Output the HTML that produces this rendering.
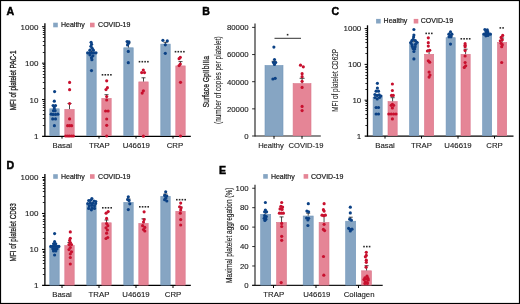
<!DOCTYPE html>
<html><head><meta charset="utf-8"><style>
html,body{margin:0;padding:0;background:#fff;width:520px;height:304px;overflow:hidden}
</style></head><body>
<svg width="520" height="304" viewBox="0 0 520 304" style="position:absolute;left:0;top:0;will-change:transform">
<rect x="0" y="0" width="520" height="304" fill="#fff"/>
<g style="font-family:&quot;Liberation Sans&quot;, sans-serif">
<text x="6.50" y="14.90" font-size="10.6" text-anchor="start" font-weight="bold" fill="#000" stroke="#000" stroke-width="0.45">A</text>
<text x="202.30" y="14.90" font-size="10.6" text-anchor="start" font-weight="bold" fill="#000" stroke="#000" stroke-width="0.45">B</text>
<text x="331.40" y="14.90" font-size="10.6" text-anchor="start" font-weight="bold" fill="#000" stroke="#000" stroke-width="0.45">C</text>
<text x="6.50" y="168.50" font-size="10.6" text-anchor="start" font-weight="bold" fill="#000" stroke="#000" stroke-width="0.45">D</text>
<text x="219.10" y="173.90" font-size="10.6" text-anchor="start" font-weight="bold" fill="#000" stroke="#000" stroke-width="0.45">E</text>
<line x1="44.90" y1="23.30" x2="44.90" y2="136.50" stroke="#000" stroke-width="1.3"/>
<line x1="42.10" y1="136.40" x2="190.80" y2="136.40" stroke="#000" stroke-width="1.15"/>
<text x="38.40" y="139.00" font-size="8.0" text-anchor="end" font-weight="normal" fill="#1a1a1a" stroke="#1a1a1a" stroke-width="0.12">1</text>
<line x1="42.80" y1="125.50" x2="44.90" y2="125.50" stroke="#111" stroke-width="0.9"/>
<line x1="42.80" y1="118.50" x2="44.90" y2="118.50" stroke="#111" stroke-width="0.9"/>
<line x1="42.80" y1="114.50" x2="44.90" y2="114.50" stroke="#111" stroke-width="0.9"/>
<line x1="42.80" y1="110.50" x2="44.90" y2="110.50" stroke="#111" stroke-width="0.9"/>
<line x1="42.80" y1="107.50" x2="44.90" y2="107.50" stroke="#111" stroke-width="0.9"/>
<line x1="42.80" y1="105.50" x2="44.90" y2="105.50" stroke="#111" stroke-width="0.9"/>
<line x1="42.80" y1="103.50" x2="44.90" y2="103.50" stroke="#111" stroke-width="0.9"/>
<line x1="42.80" y1="101.50" x2="44.90" y2="101.50" stroke="#111" stroke-width="0.9"/>
<line x1="42.00" y1="99.58" x2="44.90" y2="99.58" stroke="#000" stroke-width="1.0"/>
<text x="38.40" y="102.58" font-size="8.0" text-anchor="end" font-weight="normal" fill="#1a1a1a" stroke="#1a1a1a" stroke-width="0.12">10</text>
<line x1="42.80" y1="88.50" x2="44.90" y2="88.50" stroke="#111" stroke-width="0.9"/>
<line x1="42.80" y1="82.50" x2="44.90" y2="82.50" stroke="#111" stroke-width="0.9"/>
<line x1="42.80" y1="77.50" x2="44.90" y2="77.50" stroke="#111" stroke-width="0.9"/>
<line x1="42.80" y1="74.50" x2="44.90" y2="74.50" stroke="#111" stroke-width="0.9"/>
<line x1="42.80" y1="71.50" x2="44.90" y2="71.50" stroke="#111" stroke-width="0.9"/>
<line x1="42.80" y1="68.50" x2="44.90" y2="68.50" stroke="#111" stroke-width="0.9"/>
<line x1="42.80" y1="66.50" x2="44.90" y2="66.50" stroke="#111" stroke-width="0.9"/>
<line x1="42.80" y1="64.50" x2="44.90" y2="64.50" stroke="#111" stroke-width="0.9"/>
<line x1="42.00" y1="63.16" x2="44.90" y2="63.16" stroke="#000" stroke-width="1.0"/>
<text x="38.40" y="66.16" font-size="8.0" text-anchor="end" font-weight="normal" fill="#1a1a1a" stroke="#1a1a1a" stroke-width="0.12">100</text>
<line x1="42.80" y1="52.50" x2="44.90" y2="52.50" stroke="#111" stroke-width="0.9"/>
<line x1="42.80" y1="45.50" x2="44.90" y2="45.50" stroke="#111" stroke-width="0.9"/>
<line x1="42.80" y1="41.50" x2="44.90" y2="41.50" stroke="#111" stroke-width="0.9"/>
<line x1="42.80" y1="37.50" x2="44.90" y2="37.50" stroke="#111" stroke-width="0.9"/>
<line x1="42.80" y1="34.50" x2="44.90" y2="34.50" stroke="#111" stroke-width="0.9"/>
<line x1="42.80" y1="32.50" x2="44.90" y2="32.50" stroke="#111" stroke-width="0.9"/>
<line x1="42.80" y1="30.50" x2="44.90" y2="30.50" stroke="#111" stroke-width="0.9"/>
<line x1="42.80" y1="28.50" x2="44.90" y2="28.50" stroke="#111" stroke-width="0.9"/>
<line x1="42.00" y1="26.74" x2="44.90" y2="26.74" stroke="#000" stroke-width="1.0"/>
<text x="38.40" y="29.74" font-size="8.0" text-anchor="end" font-weight="normal" fill="#1a1a1a" stroke="#1a1a1a" stroke-width="0.12">1000</text>
<rect x="49.80" y="108.80" width="9.40" height="26.90" fill="#86a5c3" stroke="#7195ba" stroke-width="0.6"/>
<rect x="64.80" y="109.40" width="9.40" height="26.30" fill="#e58596" stroke="#d9768b" stroke-width="0.6"/>
<line x1="54.50" y1="105.90" x2="54.50" y2="108.50" stroke="#1a1a1a" stroke-width="0.8"/>
<line x1="52.50" y1="105.90" x2="56.50" y2="105.90" stroke="#1a1a1a" stroke-width="0.8"/>
<line x1="69.50" y1="103.50" x2="69.50" y2="109.10" stroke="#1a1a1a" stroke-width="0.8"/>
<line x1="67.50" y1="103.50" x2="71.50" y2="103.50" stroke="#1a1a1a" stroke-width="0.8"/>
<circle cx="54.60" cy="91.60" r="1.58" fill="#0b4185"/>
<circle cx="54.30" cy="101.20" r="1.58" fill="#0b4185"/>
<circle cx="53.10" cy="105.50" r="1.58" fill="#0b4185"/>
<circle cx="55.50" cy="105.50" r="1.58" fill="#0b4185"/>
<circle cx="54.30" cy="107.90" r="1.58" fill="#0b4185"/>
<circle cx="53.50" cy="110.70" r="1.58" fill="#0b4185"/>
<circle cx="55.10" cy="110.70" r="1.58" fill="#0b4185"/>
<circle cx="51.20" cy="114.20" r="1.58" fill="#0b4185"/>
<circle cx="53.10" cy="114.40" r="1.58" fill="#0b4185"/>
<circle cx="55.50" cy="114.40" r="1.58" fill="#0b4185"/>
<circle cx="57.90" cy="114.20" r="1.58" fill="#0b4185"/>
<circle cx="52.70" cy="118.90" r="1.58" fill="#0b4185"/>
<circle cx="55.50" cy="118.90" r="1.58" fill="#0b4185"/>
<circle cx="54.40" cy="125.70" r="1.58" fill="#0b4185"/>
<circle cx="69.60" cy="82.40" r="1.58" fill="#c8102e"/>
<circle cx="69.60" cy="89.70" r="1.58" fill="#c8102e"/>
<circle cx="69.60" cy="103.50" r="1.58" fill="#c8102e"/>
<circle cx="69.60" cy="118.90" r="1.58" fill="#c8102e"/>
<circle cx="67.60" cy="125.70" r="1.58" fill="#c8102e"/>
<circle cx="69.60" cy="125.70" r="1.58" fill="#c8102e"/>
<circle cx="71.60" cy="125.70" r="1.58" fill="#c8102e"/>
<circle cx="65.80" cy="136.00" r="1.58" fill="#c8102e"/>
<circle cx="67.80" cy="136.00" r="1.58" fill="#c8102e"/>
<circle cx="69.60" cy="136.00" r="1.58" fill="#c8102e"/>
<circle cx="71.60" cy="136.00" r="1.58" fill="#c8102e"/>
<circle cx="73.40" cy="136.00" r="1.58" fill="#c8102e"/>
<line x1="62.00" y1="136.00" x2="62.00" y2="138.60" stroke="#000" stroke-width="1.0"/>
<text x="62.30" y="147.80" font-size="7.8" text-anchor="middle" font-weight="normal" fill="#1a1a1a" stroke="#1a1a1a" stroke-width="0.12">Basal</text>
<rect x="86.80" y="53.10" width="9.40" height="82.60" fill="#86a5c3" stroke="#7195ba" stroke-width="0.6"/>
<rect x="101.80" y="98.40" width="9.40" height="37.30" fill="#e58596" stroke="#d9768b" stroke-width="0.6"/>
<line x1="91.50" y1="51.00" x2="91.50" y2="52.80" stroke="#1a1a1a" stroke-width="0.8"/>
<line x1="89.50" y1="51.00" x2="93.50" y2="51.00" stroke="#1a1a1a" stroke-width="0.8"/>
<line x1="106.50" y1="94.70" x2="106.50" y2="98.10" stroke="#1a1a1a" stroke-width="0.8"/>
<line x1="104.50" y1="94.70" x2="108.50" y2="94.70" stroke="#1a1a1a" stroke-width="0.8"/>
<circle cx="91.10" cy="42.30" r="1.58" fill="#0b4185"/>
<circle cx="91.60" cy="44.30" r="1.58" fill="#0b4185"/>
<circle cx="90.90" cy="46.30" r="1.58" fill="#0b4185"/>
<circle cx="92.20" cy="48.30" r="1.58" fill="#0b4185"/>
<circle cx="89.90" cy="50.20" r="1.58" fill="#0b4185"/>
<circle cx="93.40" cy="50.20" r="1.58" fill="#0b4185"/>
<circle cx="87.60" cy="52.80" r="1.58" fill="#0b4185"/>
<circle cx="89.70" cy="52.80" r="1.58" fill="#0b4185"/>
<circle cx="91.80" cy="52.80" r="1.58" fill="#0b4185"/>
<circle cx="94.00" cy="52.80" r="1.58" fill="#0b4185"/>
<circle cx="96.00" cy="52.80" r="1.58" fill="#0b4185"/>
<circle cx="89.90" cy="54.80" r="1.58" fill="#0b4185"/>
<circle cx="92.90" cy="55.80" r="1.58" fill="#0b4185"/>
<circle cx="91.50" cy="57.70" r="1.58" fill="#0b4185"/>
<circle cx="91.90" cy="59.70" r="1.58" fill="#0b4185"/>
<circle cx="91.50" cy="70.60" r="1.58" fill="#0b4185"/>
<circle cx="106.70" cy="80.80" r="1.58" fill="#c8102e"/>
<circle cx="107.40" cy="87.70" r="1.58" fill="#c8102e"/>
<circle cx="106.00" cy="89.60" r="1.58" fill="#c8102e"/>
<circle cx="106.70" cy="96.50" r="1.58" fill="#c8102e"/>
<circle cx="106.70" cy="100.00" r="1.58" fill="#c8102e"/>
<circle cx="105.60" cy="111.00" r="1.58" fill="#c8102e"/>
<circle cx="108.10" cy="111.00" r="1.58" fill="#c8102e"/>
<circle cx="106.70" cy="119.00" r="1.58" fill="#c8102e"/>
<circle cx="106.70" cy="125.30" r="1.58" fill="#c8102e"/>
<circle cx="106.70" cy="136.00" r="1.58" fill="#c8102e"/>
<line x1="99.00" y1="136.00" x2="99.00" y2="138.60" stroke="#000" stroke-width="1.0"/>
<text x="99.30" y="147.80" font-size="7.8" text-anchor="middle" font-weight="normal" fill="#1a1a1a" stroke="#1a1a1a" stroke-width="0.12">TRAP</text>
<rect x="123.80" y="47.80" width="9.40" height="87.90" fill="#86a5c3" stroke="#7195ba" stroke-width="0.6"/>
<rect x="138.80" y="81.90" width="9.40" height="53.80" fill="#e58596" stroke="#d9768b" stroke-width="0.6"/>
<line x1="128.50" y1="43.00" x2="128.50" y2="47.50" stroke="#1a1a1a" stroke-width="0.8"/>
<line x1="126.50" y1="43.00" x2="130.50" y2="43.00" stroke="#1a1a1a" stroke-width="0.8"/>
<line x1="143.50" y1="77.80" x2="143.50" y2="81.60" stroke="#1a1a1a" stroke-width="0.8"/>
<line x1="141.50" y1="77.80" x2="145.50" y2="77.80" stroke="#1a1a1a" stroke-width="0.8"/>
<circle cx="127.10" cy="41.50" r="1.58" fill="#0b4185"/>
<circle cx="129.00" cy="41.90" r="1.58" fill="#0b4185"/>
<circle cx="128.30" cy="43.60" r="1.58" fill="#0b4185"/>
<circle cx="127.50" cy="45.00" r="1.58" fill="#0b4185"/>
<circle cx="128.30" cy="51.40" r="1.58" fill="#0b4185"/>
<circle cx="128.30" cy="62.70" r="1.58" fill="#0b4185"/>
<circle cx="143.30" cy="70.00" r="1.58" fill="#c8102e"/>
<circle cx="141.70" cy="72.60" r="1.58" fill="#c8102e"/>
<circle cx="144.50" cy="72.60" r="1.58" fill="#c8102e"/>
<circle cx="143.40" cy="90.80" r="1.58" fill="#c8102e"/>
<circle cx="142.20" cy="93.10" r="1.58" fill="#c8102e"/>
<circle cx="143.40" cy="136.20" r="1.58" fill="#c8102e"/>
<line x1="136.00" y1="136.00" x2="136.00" y2="138.60" stroke="#000" stroke-width="1.0"/>
<text x="136.30" y="147.80" font-size="7.8" text-anchor="middle" font-weight="normal" fill="#1a1a1a" stroke="#1a1a1a" stroke-width="0.12">U46619</text>
<rect x="160.80" y="44.10" width="9.40" height="91.60" fill="#86a5c3" stroke="#7195ba" stroke-width="0.6"/>
<rect x="175.80" y="65.90" width="9.40" height="69.80" fill="#e58596" stroke="#d9768b" stroke-width="0.6"/>
<line x1="165.50" y1="42.30" x2="165.50" y2="43.80" stroke="#1a1a1a" stroke-width="0.8"/>
<line x1="163.50" y1="42.30" x2="167.50" y2="42.30" stroke="#1a1a1a" stroke-width="0.8"/>
<line x1="180.50" y1="61.60" x2="180.50" y2="65.60" stroke="#1a1a1a" stroke-width="0.8"/>
<line x1="178.50" y1="61.60" x2="182.50" y2="61.60" stroke="#1a1a1a" stroke-width="0.8"/>
<circle cx="162.90" cy="40.30" r="1.58" fill="#0b4185"/>
<circle cx="167.30" cy="40.90" r="1.58" fill="#0b4185"/>
<circle cx="165.30" cy="44.80" r="1.58" fill="#0b4185"/>
<circle cx="165.30" cy="53.30" r="1.58" fill="#0b4185"/>
<circle cx="180.30" cy="57.30" r="1.58" fill="#c8102e"/>
<circle cx="179.10" cy="58.70" r="1.58" fill="#c8102e"/>
<circle cx="180.30" cy="64.00" r="1.58" fill="#c8102e"/>
<circle cx="179.10" cy="65.60" r="1.58" fill="#c8102e"/>
<circle cx="180.50" cy="82.30" r="1.58" fill="#c8102e"/>
<circle cx="180.50" cy="136.00" r="1.58" fill="#c8102e"/>
<line x1="173.00" y1="136.00" x2="173.00" y2="138.60" stroke="#000" stroke-width="1.0"/>
<text x="174.90" y="147.80" font-size="7.8" text-anchor="middle" font-weight="normal" fill="#1a1a1a" stroke="#1a1a1a" stroke-width="0.12">CRP</text>
<rect x="53.20" y="22.70" width="4.60" height="4.60" fill="#86a5c3"/>
<text x="61.00" y="27.10" font-size="7.0" text-anchor="start" font-weight="normal" fill="#1a1a1a" stroke="#1a1a1a" stroke-width="0.2">Healthy</text>
<rect x="90.00" y="22.70" width="4.60" height="4.60" fill="#e58596"/>
<text x="98.10" y="27.10" font-size="7.0" text-anchor="start" font-weight="normal" fill="#1a1a1a" stroke="#1a1a1a" stroke-width="0.2">COVID-19</text>
<text x="0" y="0" font-size="8.8" font-weight="normal" text-anchor="middle" fill="#1a1a1a" stroke="#1a1a1a" stroke-width="0.32" textLength="59.8" lengthAdjust="spacingAndGlyphs" transform="translate(15.60,80.30) rotate(-90)">MFI of platelet PAC-1</text>
<rect x="101.70" y="74.00" width="1.6" height="1.6" fill="#2a2a2a"/>
<rect x="104.50" y="74.00" width="1.6" height="1.6" fill="#2a2a2a"/>
<rect x="107.30" y="74.00" width="1.6" height="1.6" fill="#2a2a2a"/>
<rect x="110.10" y="74.00" width="1.6" height="1.6" fill="#2a2a2a"/>
<rect x="138.70" y="60.90" width="1.6" height="1.6" fill="#2a2a2a"/>
<rect x="141.50" y="60.90" width="1.6" height="1.6" fill="#2a2a2a"/>
<rect x="144.30" y="60.90" width="1.6" height="1.6" fill="#2a2a2a"/>
<rect x="147.10" y="60.90" width="1.6" height="1.6" fill="#2a2a2a"/>
<rect x="174.70" y="50.90" width="1.6" height="1.6" fill="#2a2a2a"/>
<rect x="177.50" y="50.90" width="1.6" height="1.6" fill="#2a2a2a"/>
<rect x="180.30" y="50.90" width="1.6" height="1.6" fill="#2a2a2a"/>
<rect x="183.10" y="50.90" width="1.6" height="1.6" fill="#2a2a2a"/>
<line x1="255.00" y1="23.60" x2="255.00" y2="136.50" stroke="#1a1a1a" stroke-width="1.1"/>
<line x1="255.00" y1="136.00" x2="320.80" y2="136.00" stroke="#1a1a1a" stroke-width="1.1"/>
<line x1="252.10" y1="136.00" x2="255.00" y2="136.00" stroke="#1a1a1a" stroke-width="0.9"/>
<text x="248.60" y="138.80" font-size="7.8" text-anchor="end" font-weight="normal" fill="#1a1a1a" stroke="#1a1a1a" stroke-width="0.12">0</text>
<line x1="252.10" y1="108.85" x2="255.00" y2="108.85" stroke="#1a1a1a" stroke-width="0.9"/>
<text x="248.60" y="111.65" font-size="7.8" text-anchor="end" font-weight="normal" fill="#1a1a1a" stroke="#1a1a1a" stroke-width="0.12">20000</text>
<line x1="252.10" y1="81.70" x2="255.00" y2="81.70" stroke="#1a1a1a" stroke-width="0.9"/>
<text x="248.60" y="84.50" font-size="7.8" text-anchor="end" font-weight="normal" fill="#1a1a1a" stroke="#1a1a1a" stroke-width="0.12">40000</text>
<line x1="252.10" y1="54.55" x2="255.00" y2="54.55" stroke="#1a1a1a" stroke-width="0.9"/>
<text x="248.60" y="57.35" font-size="7.8" text-anchor="end" font-weight="normal" fill="#1a1a1a" stroke="#1a1a1a" stroke-width="0.12">60000</text>
<line x1="252.10" y1="27.40" x2="255.00" y2="27.40" stroke="#1a1a1a" stroke-width="0.9"/>
<text x="248.60" y="30.20" font-size="7.8" text-anchor="end" font-weight="normal" fill="#1a1a1a" stroke="#1a1a1a" stroke-width="0.12">80000</text>
<rect x="265.00" y="65.50" width="18.00" height="70.20" fill="#86a5c3" stroke="#7195ba" stroke-width="0.6"/>
<rect x="293.10" y="83.60" width="17.90" height="52.10" fill="#e58596" stroke="#d9768b" stroke-width="0.6"/>
<line x1="274.10" y1="61.30" x2="274.10" y2="65.20" stroke="#1a1a1a" stroke-width="0.8"/>
<line x1="271.60" y1="61.30" x2="276.60" y2="61.30" stroke="#1a1a1a" stroke-width="0.8"/>
<line x1="302.10" y1="78.30" x2="302.10" y2="83.30" stroke="#1a1a1a" stroke-width="0.8"/>
<line x1="299.60" y1="78.30" x2="304.60" y2="78.30" stroke="#1a1a1a" stroke-width="0.8"/>
<circle cx="273.90" cy="47.10" r="1.58" fill="#0b4185"/>
<circle cx="274.50" cy="59.50" r="1.58" fill="#0b4185"/>
<circle cx="273.40" cy="62.50" r="1.58" fill="#0b4185"/>
<circle cx="275.70" cy="62.50" r="1.58" fill="#0b4185"/>
<circle cx="274.50" cy="64.50" r="1.58" fill="#0b4185"/>
<circle cx="272.90" cy="79.00" r="1.58" fill="#0b4185"/>
<circle cx="275.20" cy="78.30" r="1.58" fill="#0b4185"/>
<circle cx="300.50" cy="65.20" r="1.58" fill="#c8102e"/>
<circle cx="303.30" cy="66.80" r="1.58" fill="#c8102e"/>
<circle cx="302.10" cy="73.70" r="1.58" fill="#c8102e"/>
<circle cx="302.10" cy="76.70" r="1.58" fill="#c8102e"/>
<circle cx="302.10" cy="81.30" r="1.58" fill="#c8102e"/>
<circle cx="302.10" cy="87.40" r="1.58" fill="#c8102e"/>
<circle cx="302.10" cy="106.40" r="1.58" fill="#c8102e"/>
<circle cx="302.10" cy="110.60" r="1.58" fill="#c8102e"/>
<line x1="274.00" y1="136.00" x2="274.00" y2="138.80" stroke="#000" stroke-width="1.0"/>
<line x1="302.00" y1="136.00" x2="302.00" y2="138.80" stroke="#000" stroke-width="1.0"/>
<text x="271.00" y="147.80" font-size="7.6" text-anchor="middle" font-weight="normal" fill="#1a1a1a" stroke="#1a1a1a" stroke-width="0.12">Healthy</text>
<text x="306.00" y="147.80" font-size="7.6" text-anchor="middle" font-weight="normal" fill="#1a1a1a" stroke="#1a1a1a" stroke-width="0.12">COVID-19</text>
<line x1="274.50" y1="38.30" x2="301.00" y2="38.30" stroke="#1a1a1a" stroke-width="0.9"/>
<rect x="286.80" y="33.90" width="1.6" height="1.6" fill="#2a2a2a"/>
<text x="0" y="0" font-size="8.8" font-weight="normal" text-anchor="middle" fill="#1a1a1a" stroke="#1a1a1a" stroke-width="0.25" textLength="51.6" lengthAdjust="spacingAndGlyphs" transform="translate(209.00,81.80) rotate(-90)">Surface GpIIbIIIa</text>
<text x="0" y="0" font-size="8.5" font-weight="normal" text-anchor="middle" fill="#1a1a1a" stroke="#1a1a1a" stroke-width="0.1" textLength="87.6" lengthAdjust="spacingAndGlyphs" transform="translate(221.00,80.20) rotate(-90)">(number of copies per platelet)</text>
<line x1="367.50" y1="25.30" x2="367.50" y2="136.50" stroke="#000" stroke-width="1.3"/>
<line x1="364.70" y1="136.10" x2="513.50" y2="136.10" stroke="#000" stroke-width="1.15"/>
<text x="361.30" y="138.50" font-size="8.0" text-anchor="end" font-weight="normal" fill="#1a1a1a" stroke="#1a1a1a" stroke-width="0.12">1</text>
<line x1="365.40" y1="125.50" x2="367.50" y2="125.50" stroke="#111" stroke-width="0.9"/>
<line x1="365.40" y1="118.50" x2="367.50" y2="118.50" stroke="#111" stroke-width="0.9"/>
<line x1="365.40" y1="114.50" x2="367.50" y2="114.50" stroke="#111" stroke-width="0.9"/>
<line x1="365.40" y1="110.50" x2="367.50" y2="110.50" stroke="#111" stroke-width="0.9"/>
<line x1="365.40" y1="108.50" x2="367.50" y2="108.50" stroke="#111" stroke-width="0.9"/>
<line x1="365.40" y1="105.50" x2="367.50" y2="105.50" stroke="#111" stroke-width="0.9"/>
<line x1="365.40" y1="103.50" x2="367.50" y2="103.50" stroke="#111" stroke-width="0.9"/>
<line x1="365.40" y1="101.50" x2="367.50" y2="101.50" stroke="#111" stroke-width="0.9"/>
<line x1="364.60" y1="100.20" x2="367.50" y2="100.20" stroke="#000" stroke-width="1.0"/>
<text x="361.30" y="102.70" font-size="8.0" text-anchor="end" font-weight="normal" fill="#1a1a1a" stroke="#1a1a1a" stroke-width="0.12">10</text>
<line x1="365.40" y1="89.50" x2="367.50" y2="89.50" stroke="#111" stroke-width="0.9"/>
<line x1="365.40" y1="83.50" x2="367.50" y2="83.50" stroke="#111" stroke-width="0.9"/>
<line x1="365.40" y1="78.50" x2="367.50" y2="78.50" stroke="#111" stroke-width="0.9"/>
<line x1="365.40" y1="75.50" x2="367.50" y2="75.50" stroke="#111" stroke-width="0.9"/>
<line x1="365.40" y1="72.50" x2="367.50" y2="72.50" stroke="#111" stroke-width="0.9"/>
<line x1="365.40" y1="69.50" x2="367.50" y2="69.50" stroke="#111" stroke-width="0.9"/>
<line x1="365.40" y1="67.50" x2="367.50" y2="67.50" stroke="#111" stroke-width="0.9"/>
<line x1="365.40" y1="66.50" x2="367.50" y2="66.50" stroke="#111" stroke-width="0.9"/>
<line x1="364.60" y1="64.40" x2="367.50" y2="64.40" stroke="#000" stroke-width="1.0"/>
<text x="361.30" y="66.90" font-size="8.0" text-anchor="end" font-weight="normal" fill="#1a1a1a" stroke="#1a1a1a" stroke-width="0.12">100</text>
<line x1="365.40" y1="53.50" x2="367.50" y2="53.50" stroke="#111" stroke-width="0.9"/>
<line x1="365.40" y1="47.50" x2="367.50" y2="47.50" stroke="#111" stroke-width="0.9"/>
<line x1="365.40" y1="42.50" x2="367.50" y2="42.50" stroke="#111" stroke-width="0.9"/>
<line x1="365.40" y1="39.50" x2="367.50" y2="39.50" stroke="#111" stroke-width="0.9"/>
<line x1="365.40" y1="36.50" x2="367.50" y2="36.50" stroke="#111" stroke-width="0.9"/>
<line x1="365.40" y1="34.50" x2="367.50" y2="34.50" stroke="#111" stroke-width="0.9"/>
<line x1="365.40" y1="32.50" x2="367.50" y2="32.50" stroke="#111" stroke-width="0.9"/>
<line x1="365.40" y1="30.50" x2="367.50" y2="30.50" stroke="#111" stroke-width="0.9"/>
<line x1="364.60" y1="28.60" x2="367.50" y2="28.60" stroke="#000" stroke-width="1.0"/>
<text x="361.30" y="31.10" font-size="8.0" text-anchor="end" font-weight="normal" fill="#1a1a1a" stroke="#1a1a1a" stroke-width="0.12">1000</text>
<rect x="373.10" y="97.50" width="9.10" height="38.20" fill="#86a5c3" stroke="#7195ba" stroke-width="0.6"/>
<rect x="388.00" y="101.60" width="9.20" height="34.10" fill="#e58596" stroke="#d9768b" stroke-width="0.6"/>
<line x1="377.65" y1="95.00" x2="377.65" y2="97.20" stroke="#1a1a1a" stroke-width="0.8"/>
<line x1="375.65" y1="95.00" x2="379.65" y2="95.00" stroke="#1a1a1a" stroke-width="0.8"/>
<line x1="392.60" y1="97.70" x2="392.60" y2="101.30" stroke="#1a1a1a" stroke-width="0.8"/>
<line x1="390.60" y1="97.70" x2="394.60" y2="97.70" stroke="#1a1a1a" stroke-width="0.8"/>
<circle cx="377.40" cy="83.30" r="1.58" fill="#0b4185"/>
<circle cx="377.40" cy="88.10" r="1.58" fill="#0b4185"/>
<circle cx="376.10" cy="91.20" r="1.58" fill="#0b4185"/>
<circle cx="378.50" cy="91.20" r="1.58" fill="#0b4185"/>
<circle cx="374.90" cy="94.50" r="1.58" fill="#0b4185"/>
<circle cx="377.00" cy="95.40" r="1.58" fill="#0b4185"/>
<circle cx="379.20" cy="94.80" r="1.58" fill="#0b4185"/>
<circle cx="375.00" cy="97.50" r="1.58" fill="#0b4185"/>
<circle cx="377.20" cy="99.00" r="1.58" fill="#0b4185"/>
<circle cx="379.50" cy="97.50" r="1.58" fill="#0b4185"/>
<circle cx="381.00" cy="96.00" r="1.58" fill="#0b4185"/>
<circle cx="376.10" cy="107.50" r="1.58" fill="#0b4185"/>
<circle cx="378.50" cy="107.50" r="1.58" fill="#0b4185"/>
<circle cx="376.10" cy="114.00" r="1.58" fill="#0b4185"/>
<circle cx="378.50" cy="114.00" r="1.58" fill="#0b4185"/>
<circle cx="392.40" cy="84.00" r="1.58" fill="#c8102e"/>
<circle cx="392.40" cy="90.50" r="1.58" fill="#c8102e"/>
<circle cx="391.50" cy="95.40" r="1.58" fill="#c8102e"/>
<circle cx="393.30" cy="95.40" r="1.58" fill="#c8102e"/>
<circle cx="392.40" cy="104.40" r="1.58" fill="#c8102e"/>
<circle cx="391.20" cy="105.30" r="1.58" fill="#c8102e"/>
<circle cx="393.60" cy="105.30" r="1.58" fill="#c8102e"/>
<circle cx="392.40" cy="108.00" r="1.58" fill="#c8102e"/>
<circle cx="388.80" cy="114.00" r="1.58" fill="#c8102e"/>
<circle cx="391.20" cy="114.00" r="1.58" fill="#c8102e"/>
<circle cx="393.60" cy="114.00" r="1.58" fill="#c8102e"/>
<circle cx="396.00" cy="114.00" r="1.58" fill="#c8102e"/>
<circle cx="392.40" cy="118.90" r="1.58" fill="#c8102e"/>
<line x1="385.00" y1="136.00" x2="385.00" y2="138.60" stroke="#000" stroke-width="1.0"/>
<text x="385.00" y="147.80" font-size="7.8" text-anchor="middle" font-weight="normal" fill="#1a1a1a" stroke="#1a1a1a" stroke-width="0.12">Basal</text>
<rect x="409.60" y="42.40" width="9.10" height="93.30" fill="#86a5c3" stroke="#7195ba" stroke-width="0.6"/>
<rect x="424.50" y="54.30" width="9.20" height="81.40" fill="#e58596" stroke="#d9768b" stroke-width="0.6"/>
<line x1="414.15" y1="41.20" x2="414.15" y2="42.10" stroke="#1a1a1a" stroke-width="0.8"/>
<line x1="412.15" y1="41.20" x2="416.15" y2="41.20" stroke="#1a1a1a" stroke-width="0.8"/>
<line x1="429.10" y1="50.00" x2="429.10" y2="54.00" stroke="#1a1a1a" stroke-width="0.8"/>
<line x1="427.10" y1="50.00" x2="431.10" y2="50.00" stroke="#1a1a1a" stroke-width="0.8"/>
<circle cx="413.90" cy="29.50" r="1.58" fill="#0b4185"/>
<circle cx="413.90" cy="35.10" r="1.58" fill="#0b4185"/>
<circle cx="413.60" cy="37.00" r="1.58" fill="#0b4185"/>
<circle cx="413.20" cy="39.30" r="1.58" fill="#0b4185"/>
<circle cx="411.90" cy="40.60" r="1.58" fill="#0b4185"/>
<circle cx="415.40" cy="40.60" r="1.58" fill="#0b4185"/>
<circle cx="410.70" cy="42.60" r="1.58" fill="#0b4185"/>
<circle cx="417.00" cy="42.30" r="1.58" fill="#0b4185"/>
<circle cx="411.90" cy="44.60" r="1.58" fill="#0b4185"/>
<circle cx="415.50" cy="44.30" r="1.58" fill="#0b4185"/>
<circle cx="412.30" cy="46.40" r="1.58" fill="#0b4185"/>
<circle cx="415.10" cy="46.70" r="1.58" fill="#0b4185"/>
<circle cx="413.10" cy="48.60" r="1.58" fill="#0b4185"/>
<circle cx="414.70" cy="49.00" r="1.58" fill="#0b4185"/>
<circle cx="413.90" cy="51.50" r="1.58" fill="#0b4185"/>
<circle cx="413.90" cy="58.90" r="1.58" fill="#0b4185"/>
<circle cx="428.30" cy="37.80" r="1.58" fill="#c8102e"/>
<circle cx="428.30" cy="42.70" r="1.58" fill="#c8102e"/>
<circle cx="428.30" cy="46.10" r="1.58" fill="#c8102e"/>
<circle cx="427.40" cy="51.00" r="1.58" fill="#c8102e"/>
<circle cx="429.70" cy="50.30" r="1.58" fill="#c8102e"/>
<circle cx="428.30" cy="60.80" r="1.58" fill="#c8102e"/>
<circle cx="429.70" cy="62.20" r="1.58" fill="#c8102e"/>
<circle cx="429.10" cy="72.10" r="1.58" fill="#c8102e"/>
<circle cx="430.00" cy="75.10" r="1.58" fill="#c8102e"/>
<circle cx="429.10" cy="77.10" r="1.58" fill="#c8102e"/>
<line x1="421.50" y1="136.00" x2="421.50" y2="138.60" stroke="#000" stroke-width="1.0"/>
<text x="421.50" y="147.80" font-size="7.8" text-anchor="middle" font-weight="normal" fill="#1a1a1a" stroke="#1a1a1a" stroke-width="0.12">TRAP</text>
<rect x="446.10" y="37.70" width="9.10" height="98.00" fill="#86a5c3" stroke="#7195ba" stroke-width="0.6"/>
<rect x="461.00" y="54.30" width="9.20" height="81.40" fill="#e58596" stroke="#d9768b" stroke-width="0.6"/>
<line x1="450.65" y1="36.00" x2="450.65" y2="37.40" stroke="#1a1a1a" stroke-width="0.8"/>
<line x1="448.65" y1="36.00" x2="452.65" y2="36.00" stroke="#1a1a1a" stroke-width="0.8"/>
<line x1="465.60" y1="49.20" x2="465.60" y2="54.00" stroke="#1a1a1a" stroke-width="0.8"/>
<line x1="463.60" y1="49.20" x2="467.60" y2="49.20" stroke="#1a1a1a" stroke-width="0.8"/>
<circle cx="450.50" cy="31.90" r="1.58" fill="#0b4185"/>
<circle cx="448.90" cy="34.20" r="1.58" fill="#0b4185"/>
<circle cx="450.50" cy="35.40" r="1.58" fill="#0b4185"/>
<circle cx="451.90" cy="34.20" r="1.58" fill="#0b4185"/>
<circle cx="449.00" cy="36.80" r="1.58" fill="#0b4185"/>
<circle cx="451.00" cy="36.80" r="1.58" fill="#0b4185"/>
<circle cx="450.50" cy="44.10" r="1.58" fill="#0b4185"/>
<circle cx="465.10" cy="43.70" r="1.58" fill="#c8102e"/>
<circle cx="465.10" cy="45.30" r="1.58" fill="#c8102e"/>
<circle cx="465.10" cy="46.70" r="1.58" fill="#c8102e"/>
<circle cx="465.10" cy="50.60" r="1.58" fill="#c8102e"/>
<circle cx="465.10" cy="56.00" r="1.58" fill="#c8102e"/>
<circle cx="465.10" cy="62.50" r="1.58" fill="#c8102e"/>
<circle cx="465.70" cy="65.80" r="1.58" fill="#c8102e"/>
<circle cx="464.30" cy="67.40" r="1.58" fill="#c8102e"/>
<line x1="458.00" y1="136.00" x2="458.00" y2="138.60" stroke="#000" stroke-width="1.0"/>
<text x="458.00" y="147.80" font-size="7.8" text-anchor="middle" font-weight="normal" fill="#1a1a1a" stroke="#1a1a1a" stroke-width="0.12">U46619</text>
<rect x="482.60" y="33.70" width="9.10" height="102.00" fill="#86a5c3" stroke="#7195ba" stroke-width="0.6"/>
<rect x="497.50" y="42.40" width="9.20" height="93.30" fill="#e58596" stroke="#d9768b" stroke-width="0.6"/>
<line x1="487.15" y1="31.00" x2="487.15" y2="33.40" stroke="#1a1a1a" stroke-width="0.8"/>
<line x1="485.15" y1="31.00" x2="489.15" y2="31.00" stroke="#1a1a1a" stroke-width="0.8"/>
<line x1="502.10" y1="38.00" x2="502.10" y2="42.10" stroke="#1a1a1a" stroke-width="0.8"/>
<line x1="500.10" y1="38.00" x2="504.10" y2="38.00" stroke="#1a1a1a" stroke-width="0.8"/>
<circle cx="484.90" cy="29.50" r="1.58" fill="#0b4185"/>
<circle cx="487.30" cy="29.90" r="1.58" fill="#0b4185"/>
<circle cx="485.90" cy="31.80" r="1.58" fill="#0b4185"/>
<circle cx="487.80" cy="32.20" r="1.58" fill="#0b4185"/>
<circle cx="484.00" cy="34.20" r="1.58" fill="#0b4185"/>
<circle cx="486.00" cy="34.20" r="1.58" fill="#0b4185"/>
<circle cx="488.20" cy="34.20" r="1.58" fill="#0b4185"/>
<circle cx="490.30" cy="34.20" r="1.58" fill="#0b4185"/>
<circle cx="485.90" cy="35.80" r="1.58" fill="#0b4185"/>
<circle cx="487.90" cy="35.40" r="1.58" fill="#0b4185"/>
<circle cx="502.70" cy="35.40" r="1.58" fill="#c8102e"/>
<circle cx="501.10" cy="37.40" r="1.58" fill="#c8102e"/>
<circle cx="502.30" cy="39.80" r="1.58" fill="#c8102e"/>
<circle cx="500.30" cy="40.80" r="1.58" fill="#c8102e"/>
<circle cx="501.10" cy="43.30" r="1.58" fill="#c8102e"/>
<circle cx="502.30" cy="44.70" r="1.58" fill="#c8102e"/>
<circle cx="501.70" cy="46.70" r="1.58" fill="#c8102e"/>
<circle cx="501.70" cy="62.50" r="1.58" fill="#c8102e"/>
<line x1="494.50" y1="136.00" x2="494.50" y2="138.60" stroke="#000" stroke-width="1.0"/>
<text x="494.50" y="147.80" font-size="7.8" text-anchor="middle" font-weight="normal" fill="#1a1a1a" stroke="#1a1a1a" stroke-width="0.12">CRP</text>
<rect x="376.10" y="18.90" width="4.60" height="4.60" fill="#86a5c3"/>
<text x="383.60" y="23.30" font-size="7.0" text-anchor="start" font-weight="normal" fill="#1a1a1a" stroke="#1a1a1a" stroke-width="0.2">Healthy</text>
<rect x="413.70" y="18.90" width="4.60" height="4.60" fill="#e58596"/>
<text x="420.80" y="23.30" font-size="7.0" text-anchor="start" font-weight="normal" fill="#1a1a1a" stroke="#1a1a1a" stroke-width="0.2">COVID-19</text>
<text x="0" y="0" font-size="8.6" font-weight="normal" text-anchor="middle" fill="#1a1a1a" stroke="#1a1a1a" stroke-width="0.06" textLength="62.8" lengthAdjust="spacingAndGlyphs" transform="translate(338.20,80.40) rotate(-90)">MFI of platelet CD62P</text>
<rect x="425.40" y="32.60" width="1.6" height="1.6" fill="#2a2a2a"/>
<rect x="428.20" y="32.60" width="1.6" height="1.6" fill="#2a2a2a"/>
<rect x="431.00" y="32.60" width="1.6" height="1.6" fill="#2a2a2a"/>
<rect x="460.50" y="38.00" width="1.6" height="1.6" fill="#2a2a2a"/>
<rect x="463.30" y="38.00" width="1.6" height="1.6" fill="#2a2a2a"/>
<rect x="466.10" y="38.00" width="1.6" height="1.6" fill="#2a2a2a"/>
<rect x="468.90" y="38.00" width="1.6" height="1.6" fill="#2a2a2a"/>
<rect x="499.50" y="27.10" width="1.6" height="1.6" fill="#2a2a2a"/>
<rect x="502.30" y="27.10" width="1.6" height="1.6" fill="#2a2a2a"/>
<line x1="44.90" y1="174.00" x2="44.90" y2="285.90" stroke="#000" stroke-width="1.3"/>
<line x1="42.10" y1="285.40" x2="190.80" y2="285.40" stroke="#000" stroke-width="1.15"/>
<text x="38.40" y="288.20" font-size="8.0" text-anchor="end" font-weight="normal" fill="#1a1a1a" stroke="#1a1a1a" stroke-width="0.12">1</text>
<line x1="42.80" y1="274.50" x2="44.90" y2="274.50" stroke="#111" stroke-width="0.9"/>
<line x1="42.80" y1="268.50" x2="44.90" y2="268.50" stroke="#111" stroke-width="0.9"/>
<line x1="42.80" y1="263.50" x2="44.90" y2="263.50" stroke="#111" stroke-width="0.9"/>
<line x1="42.80" y1="260.50" x2="44.90" y2="260.50" stroke="#111" stroke-width="0.9"/>
<line x1="42.80" y1="257.50" x2="44.90" y2="257.50" stroke="#111" stroke-width="0.9"/>
<line x1="42.80" y1="255.50" x2="44.90" y2="255.50" stroke="#111" stroke-width="0.9"/>
<line x1="42.80" y1="252.50" x2="44.90" y2="252.50" stroke="#111" stroke-width="0.9"/>
<line x1="42.80" y1="251.50" x2="44.90" y2="251.50" stroke="#111" stroke-width="0.9"/>
<line x1="42.00" y1="249.43" x2="44.90" y2="249.43" stroke="#000" stroke-width="1.0"/>
<text x="38.40" y="252.23" font-size="8.0" text-anchor="end" font-weight="normal" fill="#1a1a1a" stroke="#1a1a1a" stroke-width="0.12">10</text>
<line x1="42.80" y1="238.50" x2="44.90" y2="238.50" stroke="#111" stroke-width="0.9"/>
<line x1="42.80" y1="232.50" x2="44.90" y2="232.50" stroke="#111" stroke-width="0.9"/>
<line x1="42.80" y1="227.50" x2="44.90" y2="227.50" stroke="#111" stroke-width="0.9"/>
<line x1="42.80" y1="224.50" x2="44.90" y2="224.50" stroke="#111" stroke-width="0.9"/>
<line x1="42.80" y1="221.50" x2="44.90" y2="221.50" stroke="#111" stroke-width="0.9"/>
<line x1="42.80" y1="219.50" x2="44.90" y2="219.50" stroke="#111" stroke-width="0.9"/>
<line x1="42.80" y1="216.50" x2="44.90" y2="216.50" stroke="#111" stroke-width="0.9"/>
<line x1="42.80" y1="215.50" x2="44.90" y2="215.50" stroke="#111" stroke-width="0.9"/>
<line x1="42.00" y1="213.46" x2="44.90" y2="213.46" stroke="#000" stroke-width="1.0"/>
<text x="38.40" y="216.26" font-size="8.0" text-anchor="end" font-weight="normal" fill="#1a1a1a" stroke="#1a1a1a" stroke-width="0.12">100</text>
<line x1="42.80" y1="202.50" x2="44.90" y2="202.50" stroke="#111" stroke-width="0.9"/>
<line x1="42.80" y1="196.50" x2="44.90" y2="196.50" stroke="#111" stroke-width="0.9"/>
<line x1="42.80" y1="191.50" x2="44.90" y2="191.50" stroke="#111" stroke-width="0.9"/>
<line x1="42.80" y1="188.50" x2="44.90" y2="188.50" stroke="#111" stroke-width="0.9"/>
<line x1="42.80" y1="185.50" x2="44.90" y2="185.50" stroke="#111" stroke-width="0.9"/>
<line x1="42.80" y1="183.50" x2="44.90" y2="183.50" stroke="#111" stroke-width="0.9"/>
<line x1="42.80" y1="180.50" x2="44.90" y2="180.50" stroke="#111" stroke-width="0.9"/>
<line x1="42.80" y1="179.50" x2="44.90" y2="179.50" stroke="#111" stroke-width="0.9"/>
<line x1="42.00" y1="177.49" x2="44.90" y2="177.49" stroke="#000" stroke-width="1.0"/>
<text x="38.40" y="180.29" font-size="8.0" text-anchor="end" font-weight="normal" fill="#1a1a1a" stroke="#1a1a1a" stroke-width="0.12">1000</text>
<rect x="49.80" y="246.10" width="9.40" height="39.00" fill="#86a5c3" stroke="#7195ba" stroke-width="0.6"/>
<rect x="64.80" y="245.60" width="9.40" height="39.50" fill="#e58596" stroke="#d9768b" stroke-width="0.6"/>
<line x1="54.50" y1="243.50" x2="54.50" y2="245.80" stroke="#1a1a1a" stroke-width="0.8"/>
<line x1="52.50" y1="243.50" x2="56.50" y2="243.50" stroke="#1a1a1a" stroke-width="0.8"/>
<line x1="69.50" y1="242.50" x2="69.50" y2="245.30" stroke="#1a1a1a" stroke-width="0.8"/>
<line x1="67.50" y1="242.50" x2="71.50" y2="242.50" stroke="#1a1a1a" stroke-width="0.8"/>
<circle cx="54.60" cy="233.60" r="1.58" fill="#0b4185"/>
<circle cx="54.60" cy="241.70" r="1.58" fill="#0b4185"/>
<circle cx="53.60" cy="243.80" r="1.58" fill="#0b4185"/>
<circle cx="55.70" cy="243.80" r="1.58" fill="#0b4185"/>
<circle cx="50.80" cy="246.40" r="1.58" fill="#0b4185"/>
<circle cx="52.90" cy="246.40" r="1.58" fill="#0b4185"/>
<circle cx="55.00" cy="246.40" r="1.58" fill="#0b4185"/>
<circle cx="57.10" cy="246.40" r="1.58" fill="#0b4185"/>
<circle cx="58.90" cy="246.40" r="1.58" fill="#0b4185"/>
<circle cx="52.80" cy="248.80" r="1.58" fill="#0b4185"/>
<circle cx="55.00" cy="249.00" r="1.58" fill="#0b4185"/>
<circle cx="57.00" cy="248.80" r="1.58" fill="#0b4185"/>
<circle cx="53.50" cy="251.00" r="1.58" fill="#0b4185"/>
<circle cx="55.80" cy="251.00" r="1.58" fill="#0b4185"/>
<circle cx="54.60" cy="255.00" r="1.58" fill="#0b4185"/>
<circle cx="70.30" cy="231.90" r="1.58" fill="#c8102e"/>
<circle cx="70.30" cy="238.30" r="1.58" fill="#c8102e"/>
<circle cx="69.60" cy="240.40" r="1.58" fill="#c8102e"/>
<circle cx="70.30" cy="242.50" r="1.58" fill="#c8102e"/>
<circle cx="69.00" cy="244.60" r="1.58" fill="#c8102e"/>
<circle cx="71.50" cy="244.60" r="1.58" fill="#c8102e"/>
<circle cx="70.30" cy="247.50" r="1.58" fill="#c8102e"/>
<circle cx="69.00" cy="249.60" r="1.58" fill="#c8102e"/>
<circle cx="71.50" cy="251.80" r="1.58" fill="#c8102e"/>
<circle cx="70.30" cy="253.90" r="1.58" fill="#c8102e"/>
<circle cx="70.30" cy="257.50" r="1.58" fill="#c8102e"/>
<circle cx="70.30" cy="264.00" r="1.58" fill="#c8102e"/>
<line x1="62.00" y1="285.40" x2="62.00" y2="288.00" stroke="#000" stroke-width="1.0"/>
<text x="62.00" y="297.30" font-size="7.8" text-anchor="middle" font-weight="normal" fill="#1a1a1a" stroke="#1a1a1a" stroke-width="0.12">Basal</text>
<rect x="86.80" y="204.30" width="9.40" height="80.80" fill="#86a5c3" stroke="#7195ba" stroke-width="0.6"/>
<rect x="101.80" y="222.80" width="9.40" height="62.30" fill="#e58596" stroke="#d9768b" stroke-width="0.6"/>
<line x1="91.50" y1="203.00" x2="91.50" y2="204.00" stroke="#1a1a1a" stroke-width="0.8"/>
<line x1="89.50" y1="203.00" x2="93.50" y2="203.00" stroke="#1a1a1a" stroke-width="0.8"/>
<line x1="106.50" y1="220.00" x2="106.50" y2="222.50" stroke="#1a1a1a" stroke-width="0.8"/>
<line x1="104.50" y1="220.00" x2="108.50" y2="220.00" stroke="#1a1a1a" stroke-width="0.8"/>
<circle cx="91.90" cy="198.60" r="1.58" fill="#0b4185"/>
<circle cx="88.70" cy="200.50" r="1.58" fill="#0b4185"/>
<circle cx="90.50" cy="200.30" r="1.58" fill="#0b4185"/>
<circle cx="94.00" cy="201.00" r="1.58" fill="#0b4185"/>
<circle cx="95.80" cy="201.60" r="1.58" fill="#0b4185"/>
<circle cx="87.70" cy="203.50" r="1.58" fill="#0b4185"/>
<circle cx="90.30" cy="203.20" r="1.58" fill="#0b4185"/>
<circle cx="92.90" cy="203.20" r="1.58" fill="#0b4185"/>
<circle cx="95.60" cy="203.50" r="1.58" fill="#0b4185"/>
<circle cx="89.30" cy="205.80" r="1.58" fill="#0b4185"/>
<circle cx="91.90" cy="205.30" r="1.58" fill="#0b4185"/>
<circle cx="94.50" cy="205.80" r="1.58" fill="#0b4185"/>
<circle cx="88.70" cy="208.40" r="1.58" fill="#0b4185"/>
<circle cx="91.90" cy="208.10" r="1.58" fill="#0b4185"/>
<circle cx="94.50" cy="208.40" r="1.58" fill="#0b4185"/>
<circle cx="91.40" cy="209.80" r="1.58" fill="#0b4185"/>
<circle cx="108.20" cy="211.60" r="1.58" fill="#c8102e"/>
<circle cx="106.10" cy="213.20" r="1.58" fill="#c8102e"/>
<circle cx="106.60" cy="218.40" r="1.58" fill="#c8102e"/>
<circle cx="106.60" cy="223.50" r="1.58" fill="#c8102e"/>
<circle cx="107.80" cy="225.70" r="1.58" fill="#c8102e"/>
<circle cx="106.00" cy="227.80" r="1.58" fill="#c8102e"/>
<circle cx="107.40" cy="230.00" r="1.58" fill="#c8102e"/>
<circle cx="106.60" cy="233.20" r="1.58" fill="#c8102e"/>
<circle cx="107.70" cy="237.50" r="1.58" fill="#c8102e"/>
<circle cx="106.00" cy="238.50" r="1.58" fill="#c8102e"/>
<line x1="99.00" y1="285.40" x2="99.00" y2="288.00" stroke="#000" stroke-width="1.0"/>
<text x="99.00" y="297.30" font-size="7.8" text-anchor="middle" font-weight="normal" fill="#1a1a1a" stroke="#1a1a1a" stroke-width="0.12">TRAP</text>
<rect x="123.80" y="202.40" width="9.40" height="82.70" fill="#86a5c3" stroke="#7195ba" stroke-width="0.6"/>
<rect x="138.80" y="223.40" width="9.40" height="61.70" fill="#e58596" stroke="#d9768b" stroke-width="0.6"/>
<line x1="128.50" y1="199.00" x2="128.50" y2="202.10" stroke="#1a1a1a" stroke-width="0.8"/>
<line x1="126.50" y1="199.00" x2="130.50" y2="199.00" stroke="#1a1a1a" stroke-width="0.8"/>
<line x1="143.50" y1="218.80" x2="143.50" y2="223.10" stroke="#1a1a1a" stroke-width="0.8"/>
<line x1="141.50" y1="218.80" x2="145.50" y2="218.80" stroke="#1a1a1a" stroke-width="0.8"/>
<circle cx="128.30" cy="196.80" r="1.58" fill="#0b4185"/>
<circle cx="127.60" cy="199.60" r="1.58" fill="#0b4185"/>
<circle cx="129.10" cy="200.40" r="1.58" fill="#0b4185"/>
<circle cx="129.80" cy="203.80" r="1.58" fill="#0b4185"/>
<circle cx="128.30" cy="209.60" r="1.58" fill="#0b4185"/>
<circle cx="144.10" cy="211.80" r="1.58" fill="#c8102e"/>
<circle cx="144.10" cy="219.50" r="1.58" fill="#c8102e"/>
<circle cx="143.50" cy="222.00" r="1.58" fill="#c8102e"/>
<circle cx="142.60" cy="225.70" r="1.58" fill="#c8102e"/>
<circle cx="144.80" cy="227.40" r="1.58" fill="#c8102e"/>
<circle cx="143.50" cy="229.50" r="1.58" fill="#c8102e"/>
<circle cx="144.80" cy="231.00" r="1.58" fill="#c8102e"/>
<line x1="136.00" y1="285.40" x2="136.00" y2="288.00" stroke="#000" stroke-width="1.0"/>
<text x="136.00" y="297.30" font-size="7.8" text-anchor="middle" font-weight="normal" fill="#1a1a1a" stroke="#1a1a1a" stroke-width="0.12">U46619</text>
<rect x="160.80" y="196.40" width="9.40" height="88.70" fill="#86a5c3" stroke="#7195ba" stroke-width="0.6"/>
<rect x="175.80" y="211.30" width="9.40" height="73.80" fill="#e58596" stroke="#d9768b" stroke-width="0.6"/>
<line x1="165.50" y1="194.00" x2="165.50" y2="196.10" stroke="#1a1a1a" stroke-width="0.8"/>
<line x1="163.50" y1="194.00" x2="167.50" y2="194.00" stroke="#1a1a1a" stroke-width="0.8"/>
<line x1="180.50" y1="207.00" x2="180.50" y2="211.00" stroke="#1a1a1a" stroke-width="0.8"/>
<line x1="178.50" y1="207.00" x2="182.50" y2="207.00" stroke="#1a1a1a" stroke-width="0.8"/>
<circle cx="165.70" cy="191.80" r="1.58" fill="#0b4185"/>
<circle cx="164.60" cy="195.40" r="1.58" fill="#0b4185"/>
<circle cx="166.80" cy="196.10" r="1.58" fill="#0b4185"/>
<circle cx="165.70" cy="198.20" r="1.58" fill="#0b4185"/>
<circle cx="164.60" cy="199.70" r="1.58" fill="#0b4185"/>
<circle cx="166.80" cy="201.00" r="1.58" fill="#0b4185"/>
<circle cx="180.70" cy="203.10" r="1.58" fill="#c8102e"/>
<circle cx="179.60" cy="206.80" r="1.58" fill="#c8102e"/>
<circle cx="181.10" cy="207.80" r="1.58" fill="#c8102e"/>
<circle cx="180.70" cy="210.00" r="1.58" fill="#c8102e"/>
<circle cx="180.30" cy="213.20" r="1.58" fill="#c8102e"/>
<circle cx="180.70" cy="219.60" r="1.58" fill="#c8102e"/>
<circle cx="180.70" cy="225.00" r="1.58" fill="#c8102e"/>
<line x1="173.00" y1="285.40" x2="173.00" y2="288.00" stroke="#000" stroke-width="1.0"/>
<text x="173.00" y="297.30" font-size="7.8" text-anchor="middle" font-weight="normal" fill="#1a1a1a" stroke="#1a1a1a" stroke-width="0.12">CRP</text>
<rect x="53.20" y="174.20" width="4.60" height="4.60" fill="#86a5c3"/>
<text x="61.00" y="178.60" font-size="7.0" text-anchor="start" font-weight="normal" fill="#1a1a1a" stroke="#1a1a1a" stroke-width="0.2">Healthy</text>
<rect x="90.00" y="174.20" width="4.60" height="4.60" fill="#e58596"/>
<text x="98.10" y="178.60" font-size="7.0" text-anchor="start" font-weight="normal" fill="#1a1a1a" stroke="#1a1a1a" stroke-width="0.2">COVID-19</text>
<text x="0" y="0" font-size="8.8" font-weight="normal" text-anchor="middle" fill="#1a1a1a" stroke="#1a1a1a" stroke-width="0.28" textLength="58.4" lengthAdjust="spacingAndGlyphs" transform="translate(15.60,232.30) rotate(-90)">MFI of platelet CD63</text>
<rect x="102.00" y="207.00" width="1.6" height="1.6" fill="#2a2a2a"/>
<rect x="104.80" y="207.00" width="1.6" height="1.6" fill="#2a2a2a"/>
<rect x="107.60" y="207.00" width="1.6" height="1.6" fill="#2a2a2a"/>
<rect x="110.40" y="207.00" width="1.6" height="1.6" fill="#2a2a2a"/>
<rect x="139.00" y="206.00" width="1.6" height="1.6" fill="#2a2a2a"/>
<rect x="141.80" y="206.00" width="1.6" height="1.6" fill="#2a2a2a"/>
<rect x="144.60" y="206.00" width="1.6" height="1.6" fill="#2a2a2a"/>
<rect x="147.40" y="206.00" width="1.6" height="1.6" fill="#2a2a2a"/>
<rect x="176.00" y="198.90" width="1.6" height="1.6" fill="#2a2a2a"/>
<rect x="178.80" y="198.90" width="1.6" height="1.6" fill="#2a2a2a"/>
<rect x="181.60" y="198.90" width="1.6" height="1.6" fill="#2a2a2a"/>
<rect x="184.40" y="198.90" width="1.6" height="1.6" fill="#2a2a2a"/>
<line x1="255.00" y1="184.75" x2="255.00" y2="285.90" stroke="#1a1a1a" stroke-width="1.1"/>
<line x1="252.20" y1="285.40" x2="382.70" y2="285.40" stroke="#1a1a1a" stroke-width="1.1"/>
<line x1="252.20" y1="285.40" x2="255.00" y2="285.40" stroke="#1a1a1a" stroke-width="0.9"/>
<text x="248.60" y="288.20" font-size="7.8" text-anchor="end" font-weight="normal" fill="#1a1a1a" stroke="#1a1a1a" stroke-width="0.12">0</text>
<line x1="252.20" y1="265.97" x2="255.00" y2="265.97" stroke="#1a1a1a" stroke-width="0.9"/>
<text x="248.60" y="268.77" font-size="7.8" text-anchor="end" font-weight="normal" fill="#1a1a1a" stroke="#1a1a1a" stroke-width="0.12">20</text>
<line x1="252.20" y1="246.54" x2="255.00" y2="246.54" stroke="#1a1a1a" stroke-width="0.9"/>
<text x="248.60" y="249.34" font-size="7.8" text-anchor="end" font-weight="normal" fill="#1a1a1a" stroke="#1a1a1a" stroke-width="0.12">40</text>
<line x1="252.20" y1="227.11" x2="255.00" y2="227.11" stroke="#1a1a1a" stroke-width="0.9"/>
<text x="248.60" y="229.91" font-size="7.8" text-anchor="end" font-weight="normal" fill="#1a1a1a" stroke="#1a1a1a" stroke-width="0.12">60</text>
<line x1="252.20" y1="207.68" x2="255.00" y2="207.68" stroke="#1a1a1a" stroke-width="0.9"/>
<text x="248.60" y="210.48" font-size="7.8" text-anchor="end" font-weight="normal" fill="#1a1a1a" stroke="#1a1a1a" stroke-width="0.12">80</text>
<line x1="252.20" y1="188.25" x2="255.00" y2="188.25" stroke="#1a1a1a" stroke-width="0.9"/>
<text x="248.60" y="191.05" font-size="7.8" text-anchor="end" font-weight="normal" fill="#1a1a1a" stroke="#1a1a1a" stroke-width="0.12">100</text>
<rect x="260.70" y="214.30" width="10.00" height="70.80" fill="#86a5c3" stroke="#7195ba" stroke-width="0.6"/>
<rect x="276.60" y="222.40" width="9.90" height="62.70" fill="#e58596" stroke="#d9768b" stroke-width="0.6"/>
<line x1="265.70" y1="211.80" x2="265.70" y2="214.00" stroke="#1a1a1a" stroke-width="0.8"/>
<line x1="263.70" y1="211.80" x2="267.70" y2="211.80" stroke="#1a1a1a" stroke-width="0.8"/>
<line x1="281.55" y1="216.90" x2="281.55" y2="222.10" stroke="#1a1a1a" stroke-width="0.8"/>
<line x1="279.55" y1="216.90" x2="283.55" y2="216.90" stroke="#1a1a1a" stroke-width="0.8"/>
<circle cx="265.40" cy="202.50" r="1.58" fill="#0b4185"/>
<circle cx="265.40" cy="210.10" r="1.58" fill="#0b4185"/>
<circle cx="264.60" cy="211.80" r="1.58" fill="#0b4185"/>
<circle cx="266.60" cy="211.80" r="1.58" fill="#0b4185"/>
<circle cx="264.60" cy="215.70" r="1.58" fill="#0b4185"/>
<circle cx="266.30" cy="216.60" r="1.58" fill="#0b4185"/>
<circle cx="264.20" cy="218.30" r="1.58" fill="#0b4185"/>
<circle cx="265.90" cy="219.20" r="1.58" fill="#0b4185"/>
<circle cx="264.90" cy="220.40" r="1.58" fill="#0b4185"/>
<circle cx="281.70" cy="202.50" r="1.58" fill="#c8102e"/>
<circle cx="280.90" cy="206.30" r="1.58" fill="#c8102e"/>
<circle cx="282.60" cy="207.10" r="1.58" fill="#c8102e"/>
<circle cx="280.00" cy="208.90" r="1.58" fill="#c8102e"/>
<circle cx="282.10" cy="209.40" r="1.58" fill="#c8102e"/>
<circle cx="279.40" cy="213.20" r="1.58" fill="#c8102e"/>
<circle cx="281.40" cy="213.20" r="1.58" fill="#c8102e"/>
<circle cx="283.40" cy="213.20" r="1.58" fill="#c8102e"/>
<circle cx="281.70" cy="223.40" r="1.58" fill="#c8102e"/>
<circle cx="281.70" cy="226.50" r="1.58" fill="#c8102e"/>
<circle cx="281.70" cy="236.30" r="1.58" fill="#c8102e"/>
<circle cx="281.70" cy="240.30" r="1.58" fill="#c8102e"/>
<circle cx="281.20" cy="282.60" r="1.58" fill="#c8102e"/>
<line x1="273.50" y1="285.40" x2="273.50" y2="288.00" stroke="#000" stroke-width="1.0"/>
<text x="273.70" y="297.30" font-size="7.8" text-anchor="middle" font-weight="normal" fill="#1a1a1a" stroke="#1a1a1a" stroke-width="0.12">TRAP</text>
<rect x="303.20" y="216.00" width="10.00" height="69.10" fill="#86a5c3" stroke="#7195ba" stroke-width="0.6"/>
<rect x="319.10" y="222.40" width="9.90" height="62.70" fill="#e58596" stroke="#d9768b" stroke-width="0.6"/>
<line x1="308.20" y1="213.20" x2="308.20" y2="215.70" stroke="#1a1a1a" stroke-width="0.8"/>
<line x1="306.20" y1="213.20" x2="310.20" y2="213.20" stroke="#1a1a1a" stroke-width="0.8"/>
<line x1="324.05" y1="215.50" x2="324.05" y2="222.10" stroke="#1a1a1a" stroke-width="0.8"/>
<line x1="322.05" y1="215.50" x2="326.05" y2="215.50" stroke="#1a1a1a" stroke-width="0.8"/>
<circle cx="308.30" cy="203.70" r="1.58" fill="#0b4185"/>
<circle cx="306.90" cy="211.10" r="1.58" fill="#0b4185"/>
<circle cx="308.60" cy="211.80" r="1.58" fill="#0b4185"/>
<circle cx="306.60" cy="218.00" r="1.58" fill="#0b4185"/>
<circle cx="308.60" cy="218.30" r="1.58" fill="#0b4185"/>
<circle cx="307.90" cy="220.00" r="1.58" fill="#0b4185"/>
<circle cx="307.90" cy="225.50" r="1.58" fill="#0b4185"/>
<circle cx="324.10" cy="203.70" r="1.58" fill="#c8102e"/>
<circle cx="323.40" cy="209.70" r="1.58" fill="#c8102e"/>
<circle cx="324.10" cy="211.10" r="1.58" fill="#c8102e"/>
<circle cx="322.00" cy="215.20" r="1.58" fill="#c8102e"/>
<circle cx="323.70" cy="215.70" r="1.58" fill="#c8102e"/>
<circle cx="325.40" cy="215.20" r="1.58" fill="#c8102e"/>
<circle cx="324.10" cy="224.30" r="1.58" fill="#c8102e"/>
<circle cx="323.40" cy="229.40" r="1.58" fill="#c8102e"/>
<circle cx="324.60" cy="230.60" r="1.58" fill="#c8102e"/>
<circle cx="323.50" cy="256.50" r="1.58" fill="#c8102e"/>
<circle cx="323.80" cy="275.20" r="1.58" fill="#c8102e"/>
<line x1="316.00" y1="285.40" x2="316.00" y2="288.00" stroke="#000" stroke-width="1.0"/>
<text x="316.80" y="297.30" font-size="7.8" text-anchor="middle" font-weight="normal" fill="#1a1a1a" stroke="#1a1a1a" stroke-width="0.12">U46619</text>
<rect x="345.70" y="221.20" width="10.00" height="63.90" fill="#86a5c3" stroke="#7195ba" stroke-width="0.6"/>
<rect x="361.60" y="270.80" width="9.90" height="14.30" fill="#e58596" stroke="#d9768b" stroke-width="0.6"/>
<line x1="350.70" y1="217.20" x2="350.70" y2="220.90" stroke="#1a1a1a" stroke-width="0.8"/>
<line x1="348.70" y1="217.20" x2="352.70" y2="217.20" stroke="#1a1a1a" stroke-width="0.8"/>
<line x1="366.55" y1="265.70" x2="366.55" y2="270.50" stroke="#1a1a1a" stroke-width="0.8"/>
<line x1="364.55" y1="265.70" x2="368.55" y2="265.70" stroke="#1a1a1a" stroke-width="0.8"/>
<circle cx="350.30" cy="207.20" r="1.58" fill="#0b4185"/>
<circle cx="350.30" cy="212.90" r="1.58" fill="#0b4185"/>
<circle cx="349.70" cy="219.20" r="1.58" fill="#0b4185"/>
<circle cx="351.40" cy="220.20" r="1.58" fill="#0b4185"/>
<circle cx="348.60" cy="228.30" r="1.58" fill="#0b4185"/>
<circle cx="350.30" cy="229.50" r="1.58" fill="#0b4185"/>
<circle cx="352.00" cy="229.20" r="1.58" fill="#0b4185"/>
<circle cx="350.30" cy="230.90" r="1.58" fill="#0b4185"/>
<circle cx="366.30" cy="252.30" r="1.58" fill="#c8102e"/>
<circle cx="366.30" cy="255.40" r="1.58" fill="#c8102e"/>
<circle cx="365.40" cy="256.80" r="1.58" fill="#c8102e"/>
<circle cx="366.30" cy="260.20" r="1.58" fill="#c8102e"/>
<circle cx="366.30" cy="262.30" r="1.58" fill="#c8102e"/>
<circle cx="366.10" cy="267.20" r="1.58" fill="#c8102e"/>
<circle cx="367.00" cy="276.20" r="1.58" fill="#c8102e"/>
<circle cx="364.90" cy="277.90" r="1.58" fill="#c8102e"/>
<circle cx="367.90" cy="278.30" r="1.58" fill="#c8102e"/>
<circle cx="364.00" cy="279.60" r="1.58" fill="#c8102e"/>
<circle cx="366.10" cy="279.10" r="1.58" fill="#c8102e"/>
<circle cx="368.30" cy="280.00" r="1.58" fill="#c8102e"/>
<circle cx="365.30" cy="282.10" r="1.58" fill="#c8102e"/>
<circle cx="367.20" cy="282.60" r="1.58" fill="#c8102e"/>
<circle cx="364.90" cy="283.50" r="1.58" fill="#c8102e"/>
<circle cx="367.40" cy="283.50" r="1.58" fill="#c8102e"/>
<line x1="358.50" y1="285.40" x2="358.50" y2="288.00" stroke="#000" stroke-width="1.0"/>
<text x="359.10" y="297.30" font-size="7.8" text-anchor="middle" font-weight="normal" fill="#1a1a1a" stroke="#1a1a1a" stroke-width="0.12">Collagen</text>
<rect x="263.20" y="174.10" width="4.60" height="4.60" fill="#86a5c3"/>
<text x="270.90" y="178.50" font-size="7.0" text-anchor="start" font-weight="normal" fill="#1a1a1a" stroke="#1a1a1a" stroke-width="0.2">Healthy</text>
<rect x="303.60" y="174.10" width="4.60" height="4.60" fill="#e58596"/>
<text x="311.00" y="178.50" font-size="7.0" text-anchor="start" font-weight="normal" fill="#1a1a1a" stroke="#1a1a1a" stroke-width="0.2">COVID-19</text>
<text x="0" y="0" font-size="8.5" font-weight="normal" text-anchor="middle" fill="#1a1a1a" stroke="#1a1a1a" stroke-width="0.15" textLength="95.4" lengthAdjust="spacingAndGlyphs" transform="translate(232.00,235.20) rotate(-90)">Maximal platelet aggregation (%)</text>
<rect x="363.20" y="245.80" width="1.6" height="1.6" fill="#2a2a2a"/>
<rect x="366.00" y="245.80" width="1.6" height="1.6" fill="#2a2a2a"/>
<rect x="368.80" y="245.80" width="1.6" height="1.6" fill="#2a2a2a"/>
</g>
<rect x="0.5" y="0.5" width="519" height="303" fill="none" stroke="#000" stroke-width="1.2"/>
</svg>
</body></html>
